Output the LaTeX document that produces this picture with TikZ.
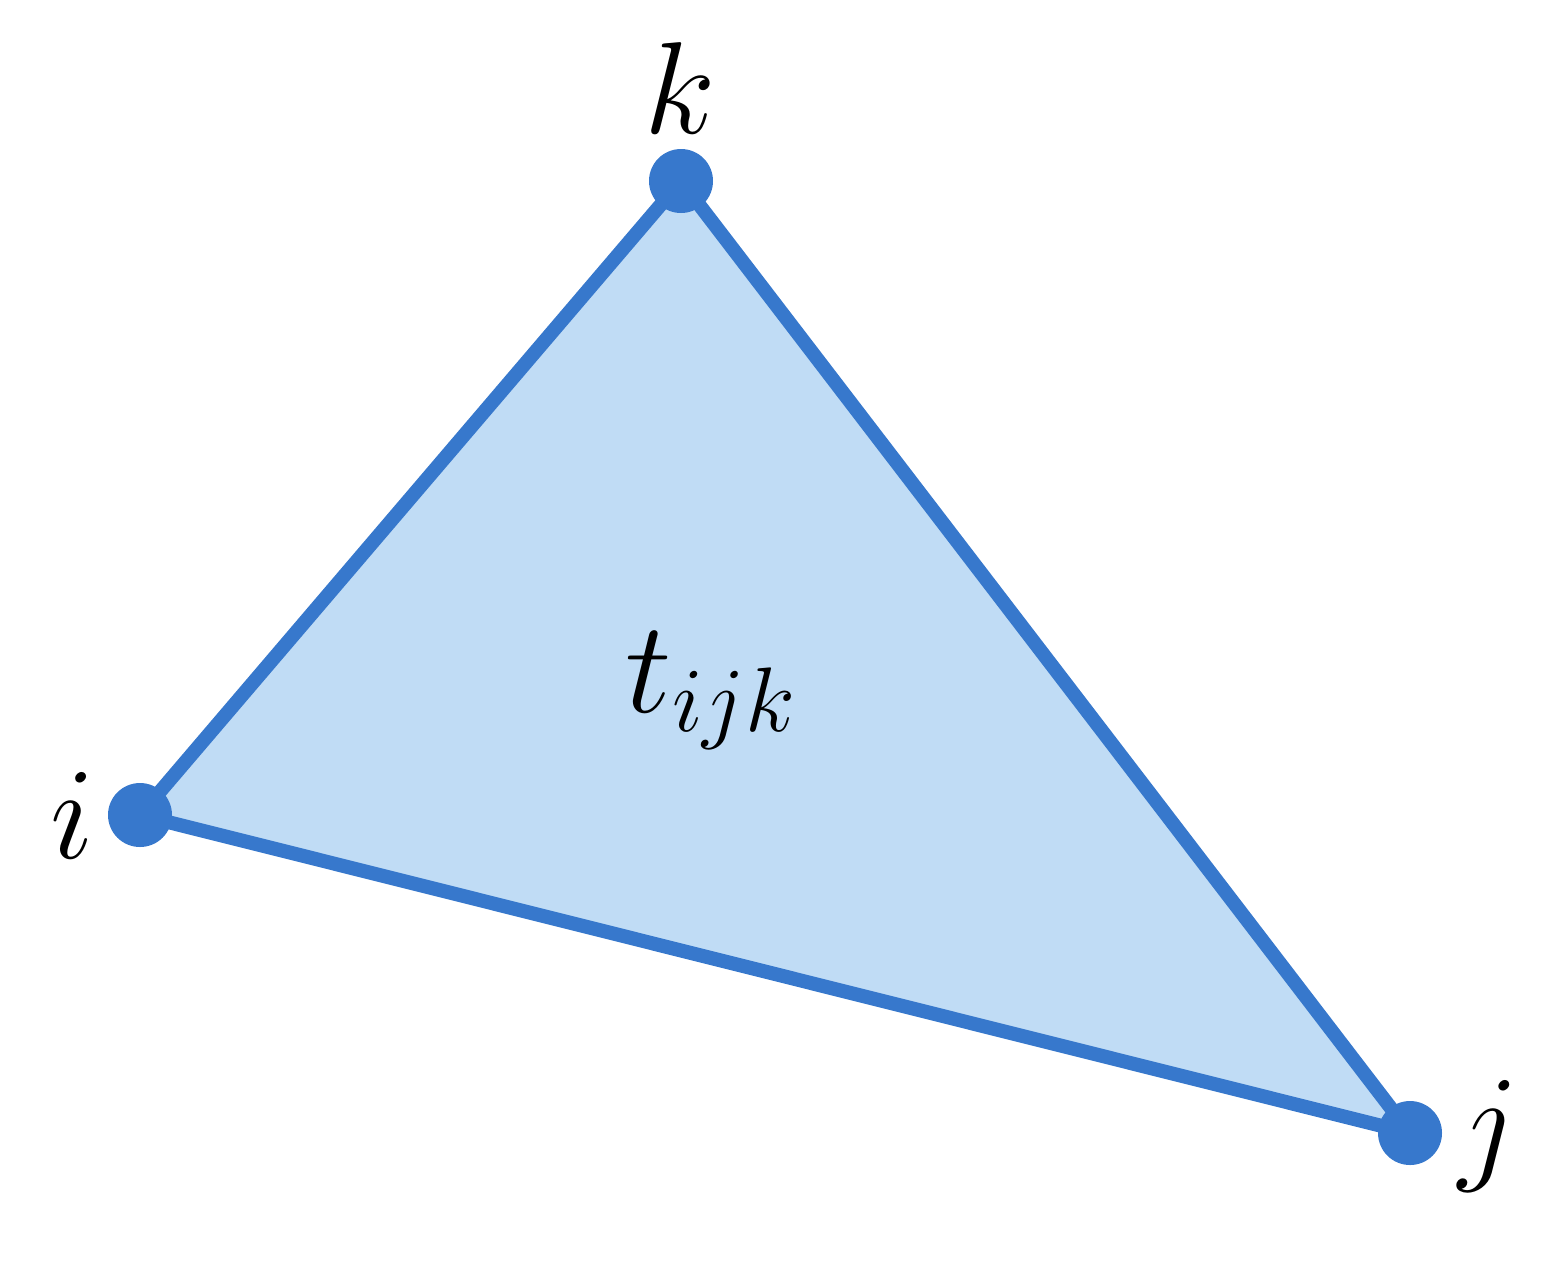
\documentclass[tikz,border=0pt]{standalone}
\usepackage{fix-cm}
\definecolor{edgeblue}{RGB}{55,120,204}
\definecolor{fillblue}{RGB}{192,220,245}
\begin{document}
\begin{tikzpicture}[x=0.5pt,y=-0.5pt,
  vertex/.style={circle,fill=edgeblue,inner sep=0pt,minimum size=32pt},
  edge/.style={draw=edgeblue,line width=7pt},
  lbl/.style={anchor=base,inner sep=0pt,font=\fontsize{65.5}{78}\selectfont}]
\useasboundingbox (0,0) rectangle (1546,1260);
\coordinate (K) at (681,181);
\coordinate (I) at (140,815);
\coordinate (J) at (1410,1133);
\fill[fillblue] (K) -- (I) -- (J) -- cycle;
\draw[edge,line join=round] (K) -- (I) -- (J) -- cycle;
\node[vertex] (k) at (K) {};
\node[vertex] (i) at (I) {};
\node[vertex] (j) at (J) {};
\node[lbl] (lk) at (680,133) {$k$};
\node[lbl] (li) at (72,858) {$i$};
\node[lbl] (lj) at (1489,1166) {$j$};
\node[lbl] (lt) at (711,712) {$t_{ijk}$};
\end{tikzpicture}
\end{document}
